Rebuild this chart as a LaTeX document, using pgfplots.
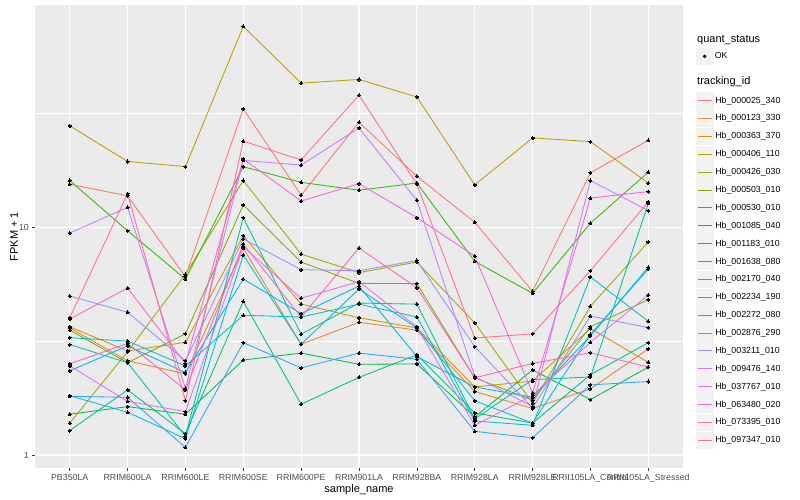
\documentclass[border=0pt]{standalone}
\usepackage{fontspec}
\setmainfont{Liberation Sans}
\usepackage{pgfplots}
\pgfplotsset{compat=1.18}
\definecolor{c01}{HTML}{F8766D}
\definecolor{c02}{HTML}{EA8331}
\definecolor{c03}{HTML}{D89000}
\definecolor{c04}{HTML}{C09B00}
\definecolor{c05}{HTML}{A3A500}
\definecolor{c06}{HTML}{7CAE00}
\definecolor{c07}{HTML}{39B600}
\definecolor{c08}{HTML}{00BB4E}
\definecolor{c09}{HTML}{00BF7D}
\definecolor{c10}{HTML}{00C1A3}
\definecolor{c11}{HTML}{00BFC4}
\definecolor{c12}{HTML}{00BAE0}
\definecolor{c13}{HTML}{00B0F6}
\definecolor{c14}{HTML}{35A2FF}
\definecolor{c15}{HTML}{9590FF}
\definecolor{c16}{HTML}{C77CFF}
\definecolor{c17}{HTML}{E76BF3}
\definecolor{c18}{HTML}{FA62DB}
\definecolor{c19}{HTML}{FF62BC}
\definecolor{c20}{HTML}{FF6C91}
\definecolor{panel}{HTML}{EBEBEB}
\definecolor{keybg}{HTML}{F2F2F2}
\definecolor{tickc}{HTML}{4D4D4D}
\definecolor{tickm}{HTML}{333333}
\pgfplotsset{ser/.style={color=#1, line width=0.85pt, mark=*, mark size=1.55pt, mark options={draw=black, fill=black, line width=0pt}}}
\begin{document}
\begin{tikzpicture}[x=1pt,y=1pt]
\path[use as bounding box, fill=white] (0,0) rectangle (800,500);
\begin{axis}[at={(35pt,32pt)}, anchor=south west, width=648pt, height=463pt, scale only axis,
 xmin=-0.6, xmax=10.6, ymode=log, ymin=0.877, ymax=94.2,
 xtick={0,...,10},
 xticklabels={PB350LA,RRIM600LA,RRIM600LE,RRIM600SE,RRIM600PE,RRIM901LA,RRIM928BA,RRIM928LA,RRIM928LE,RRII105LA\_Control,RRII105LA\_Stressed},
 ytick={1,10}, yticklabels={1,10}, minor ytick={3.1623,31.623},
 grid=both, major grid style={white, line width=1.07pt}, minor grid style={white, line width=0.53pt},
 axis background/.style={fill=panel}, axis line style={draw=none},
 tick pos=left, tick align=outside, major tick length=2.75pt, minor tick length=0pt,
 tick style={tickm, line width=0.53pt},
 ticklabel style={font=\fontsize{8.8}{10}\selectfont, text=tickc},
 xlabel={sample\_name}, ylabel={FPKM + 1},
 label style={font=\fontsize{11}{13}\selectfont},
 xlabel style={at={(axis description cs:0.5,-0.0475)}, anchor=center},
 ylabel style={at={(axis description cs:-0.0324,0.5)}, anchor=center},
 legend cell align=left,
 legend style={at={(rel axis cs:1.0193,0.8127)}, anchor=north west, draw=none, fill=none,
   inner sep=0pt, row sep=0.43pt, font=\fontsize{8.8}{10}\selectfont,
   nodes={inner ysep=0pt, inner xsep=1.5pt}},
 legend image code/.code={
   \fill[keybg] (0pt,-8.3pt) rectangle (17.28pt,8.3pt);
   \draw[#1, mark=none, line width=1pt] (1.73pt,0pt) -- (15.55pt,0pt);
 },
]
\addplot[ser=c01] coordinates {(0,15.4) (1,13.7) (2,6.05) (3,33.0) (4,13.8) (5,28.8) (6,16.7) (7,10.5) (8,5.22) (9,17.3) (10,24.0)};
\addlegendentry{Hb\_000025\_340}
\addplot[ser=c02] coordinates {(0,3.61) (1,2.59) (2,2.27) (3,8.07) (4,3.06) (5,3.82) (6,3.53) (7,1.90) (8,1.60) (9,1.95) (10,2.92)};
\addlegendentry{Hb\_000123\_330}
\addplot[ser=c03] coordinates {(0,3.65) (1,2.86) (2,3.12) (3,9.16) (4,4.59) (5,4.00) (6,3.61) (7,1.99) (8,2.11) (9,3.59) (10,2.55)};
\addlegendentry{Hb\_000363\_370}
\addplot[ser=c04] coordinates {(0,27.8) (1,19.4) (2,18.4) (3,75.9) (4,42.8) (5,44.4) (6,37.2) (7,15.3) (8,24.6) (9,23.7) (10,15.6)};
\addlegendentry{Hb\_000406\_110}
\addplot[ser=c05] coordinates {(0,1.38) (1,2.84) (2,6.20) (3,16.0) (4,7.61) (5,6.31) (6,7.02) (7,3.80) (8,1.69) (9,4.49) (10,8.60)};
\addlegendentry{Hb\_000426\_030}
\addplot[ser=c06] coordinates {(0,3.53) (1,2.54) (2,3.40) (3,12.5) (4,7.02) (5,5.66) (6,5.65) (7,2.18) (8,1.74) (9,3.65) (10,4.80)};
\addlegendentry{Hb\_000503\_010}
\addplot[ser=c07] coordinates {(0,16.0) (1,9.63) (2,5.91) (3,18.4) (4,15.7) (5,14.5) (6,15.6) (7,7.07) (8,5.12) (9,10.4) (10,17.4)};
\addlegendentry{Hb\_000530\_010}
\addplot[ser=c08] coordinates {(0,1.51) (1,1.63) (2,1.51) (3,2.61) (4,2.80) (5,2.50) (6,2.51) (7,1.47) (8,2.36) (9,1.75) (10,2.43)};
\addlegendentry{Hb\_001085\_040}
\addplot[ser=c09] coordinates {(0,1.28) (1,1.93) (2,1.24) (3,4.72) (4,1.67) (5,2.19) (6,2.75) (7,1.53) (8,1.38) (9,2.25) (10,3.11)};
\addlegendentry{Hb\_001183\_010}
\addplot[ser=c10] coordinates {(0,3.05) (1,2.54) (2,1.21) (3,11.0) (4,3.39) (5,4.64) (6,4.59) (7,1.44) (8,2.14) (9,2.20) (10,12.7)};
\addlegendentry{Hb\_001638\_080}
\addplot[ser=c11] coordinates {(0,3.27) (1,3.16) (2,2.46) (3,4.10) (4,4.03) (5,4.59) (6,4.03) (7,1.41) (8,1.35) (9,6.04) (10,3.86)};
\addlegendentry{Hb\_002170\_040}
\addplot[ser=c12] coordinates {(0,1.82) (1,1.54) (2,1.18) (3,7.54) (4,3.06) (5,5.35) (6,3.61) (7,1.73) (8,1.38) (9,3.38) (10,6.54)};
\addlegendentry{Hb\_002234\_190}
\addplot[ser=c13] coordinates {(0,2.34) (1,3.01) (2,2.30) (3,5.91) (4,4.17) (5,5.51) (6,2.70) (7,1.99) (8,1.79) (9,3.33) (10,6.66)};
\addlegendentry{Hb\_002272\_080}
\addplot[ser=c14] coordinates {(0,1.81) (1,1.79) (2,1.08) (3,3.11) (4,2.41) (5,2.80) (6,2.63) (7,1.27) (8,1.19) (9,2.03) (10,2.10)};
\addlegendentry{Hb\_002876\_290}
\addplot[ser=c15] coordinates {(0,4.98) (1,4.23) (2,2.59) (3,8.86) (4,6.50) (5,6.43) (6,7.13) (7,2.99) (8,1.61) (9,4.07) (10,3.62)};
\addlegendentry{Hb\_003211\_010}
\addplot[ser=c16] coordinates {(0,9.41) (1,12.2) (2,1.96) (3,19.6) (4,18.7) (5,27.2) (6,13.1) (7,2.21) (8,1.63) (9,16.0) (10,11.8)};
\addlegendentry{Hb\_009476\_140}
\addplot[ser=c17] coordinates {(0,2.46) (1,1.72) (2,1.55) (3,8.19) (4,4.87) (5,5.76) (6,3.65) (7,1.35) (8,1.83) (9,3.12) (10,5.03)};
\addlegendentry{Hb\_037767\_010}
\addplot[ser=c18] coordinates {(0,3.95) (1,5.40) (2,2.52) (3,19.9) (4,13.0) (5,15.5) (6,11.0) (7,7.46) (8,1.87) (9,13.4) (10,14.3)};
\addlegendentry{Hb\_063480\_020}
\addplot[ser=c19] coordinates {(0,2.51) (1,3.09) (2,1.93) (3,8.42) (4,4.03) (5,8.09) (6,5.42) (7,2.18) (8,2.52) (9,2.81) (10,2.43)};
\addlegendentry{Hb\_073395\_010}
\addplot[ser=c20] coordinates {(0,4.00) (1,14.0) (2,1.73) (3,23.8) (4,19.7) (5,37.9) (6,15.4) (7,3.26) (8,3.40) (9,6.43) (10,12.9)};
\addlegendentry{Hb\_097347\_010}
\end{axis}
\begin{axis}[at={(35pt,32pt)}, anchor=south west, width=648pt, height=463pt, scale only axis,
 hide axis, xmin=0, xmax=1, ymin=0, ymax=1,
 legend cell align=left,
 legend style={at={(rel axis cs:1.0193,0.9078)}, anchor=north west, draw=none, fill=none,
   inner sep=0pt, font=\fontsize{8.8}{10}\selectfont,
   nodes={inner ysep=0pt, inner xsep=1.5pt}},
 legend image code/.code={
   \fill[keybg] (0pt,-8.3pt) rectangle (17.28pt,8.3pt);
   \fill[black] (8.64pt,0pt) circle (1.55pt);
 },
]
\addplot[draw=none, forget plot] coordinates {(0,0) (1,1)};
\addlegendimage{black}
\addlegendentry{OK}
\end{axis}
\node[anchor=west, font=\fontsize{11}{13}\selectfont, inner sep=0pt] at (697,460) {quant\_status};
\node[anchor=west, font=\fontsize{11}{13}\selectfont, inner sep=0pt] at (697,418) {tracking\_id};
\end{tikzpicture}
\end{document}
